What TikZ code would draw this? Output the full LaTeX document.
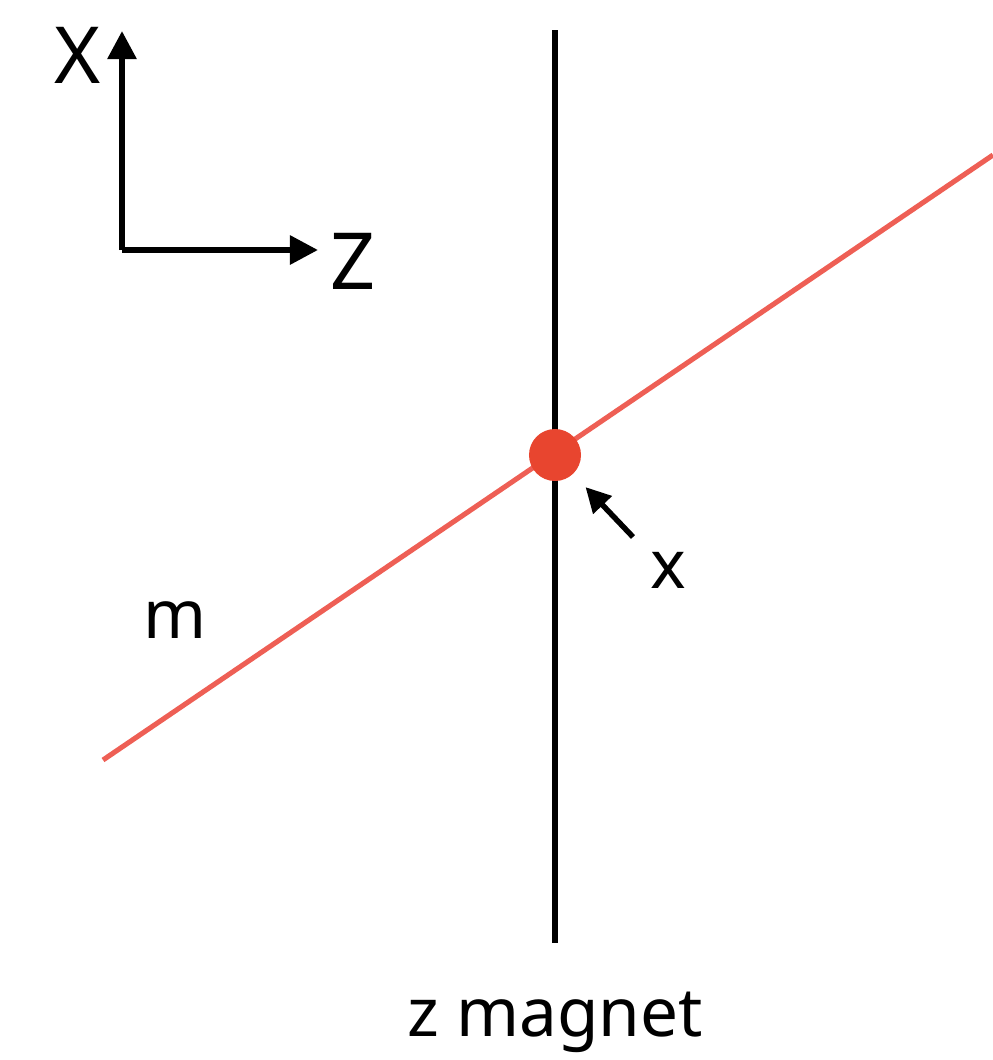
\documentclass[tikz,border=0pt]{standalone}
\usepackage{fontspec}
\setmainfont{Noto Sans}
\usetikzlibrary{arrows.meta,positioning}
\definecolor{beam}{HTML}{EE5F55}
\definecolor{spot}{HTML}{E8452F}
\tikzset{
  axis/.style={line width=4.2pt,arrows={-Triangle[length=0.7cm,width=0.7cm]}},
  lbl/.style={font=\fontsize{48}{56}\selectfont,inner sep=0pt},
  biglbl/.style={font=\fontsize{56}{62}\selectfont,inner sep=0pt}
}
\begin{document}
\begin{tikzpicture}[x=0.025cm,y=-0.025cm]
\useasboundingbox (0,0) rectangle (993,1060);

% axes
\coordinate (O) at (122,250);
\coordinate (Xend) at (122,31);
\coordinate (Zend) at (318,250);
\draw[axis] (O) -- (Xend);
\draw[axis] (O) -- (Zend);
\node[biglbl] (Xlbl) at (78,55) {X};
\node[biglbl] (Zlbl) at (353,261) {Z};

% magnet and beam
\coordinate (magtop) at (555,30);
\coordinate (magbot) at (555,943);
\draw[line width=3.9pt] (magtop) -- (magbot);
\coordinate (mstart) at (103,760);
\coordinate (mend) at (993,155);
\draw[beam,line width=3.6pt] (mstart) -- (mend);
\node[shape=circle,fill=spot,minimum size=1.3cm,inner sep=0pt] (dot) at (555,455) {};

% labels
\node[lbl] (xlbl) at (668,570) {x};
\coordinate (xtail) at (633,537);
\draw[line width=3.9pt,arrows={-Triangle[length=0.62cm,width=0.62cm]},shorten >=0.45cm] (xtail) -- (dot);
\node[lbl] (mlbl) at (175,620) {m};
\node[lbl] (maglbl) at (555,1022) {z magnet};
\end{tikzpicture}
\end{document}
